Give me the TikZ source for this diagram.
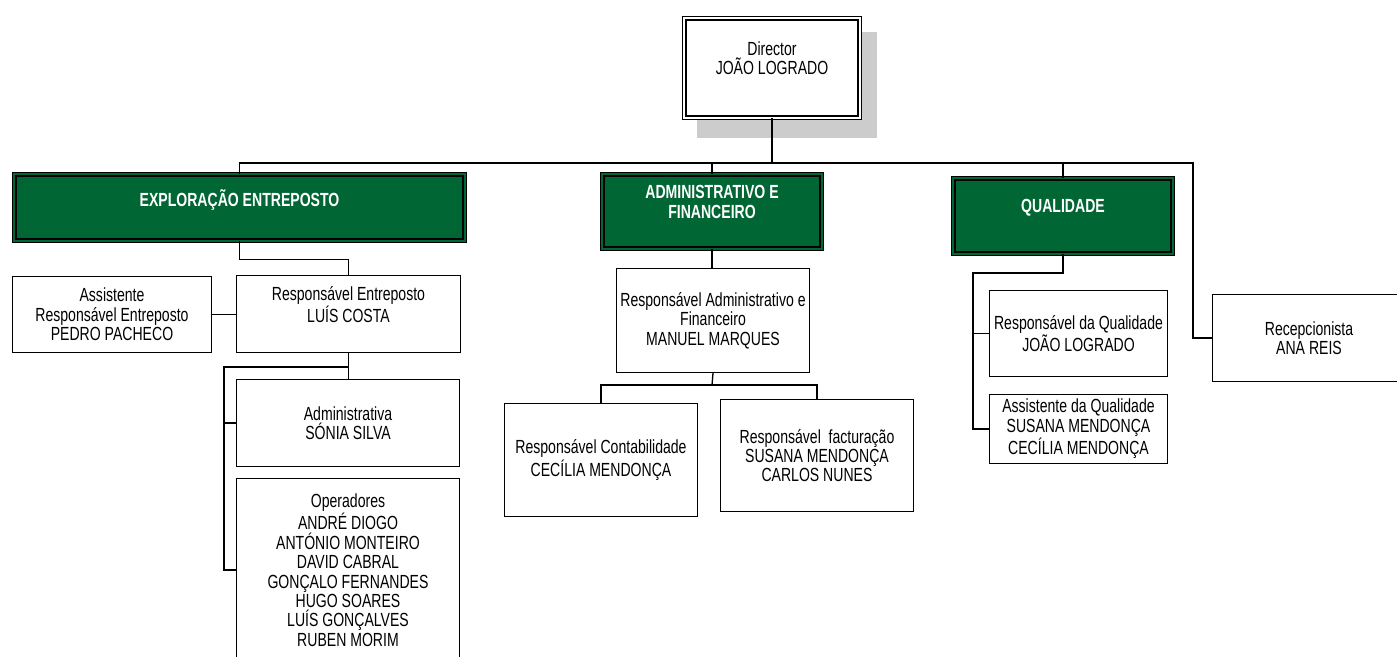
\documentclass[tikz,border=0pt]{standalone}
\usepackage{fontspec}
\setmainfont[FakeStretch=0.74]{Liberation Sans}
\usetikzlibrary{calc}
\definecolor{deptgreen}{RGB}{0,102,51}
\definecolor{shadowgray}{RGB}{204,204,204}

\begin{document}
\begin{tikzpicture}[
  x=0.5pt,y=-0.5pt,line width=0.65pt,
  every node/.style={rectangle,draw,align=center,inner sep=1pt,font=\fontsize{9.5}{9.7}\selectfont},
  unit/.style={fill=white},
  dept/.style={fill=deptgreen,double=deptgreen,double distance=1.1pt,text=white,font=\fontsize{9.5}{9.7}\selectfont\bfseries},
  boss/.style={fill=white,double=white,double distance=1.1pt}]
  \useasboundingbox(0,0) rectangle (1397,657);
  \clip(0,0) rectangle (1397,657);
  \fill[shadowgray](697,32) rectangle (877,138);
  \node[boss,minimum width=87.8pt,minimum height=49.8pt](dir) at(772,68){Director\\JOÃO LOGRADO\\~};
  \node[dept,minimum width=225.2pt,minimum height=33.2pt](expl) at(239.5,207.5){EXPLORAÇÃO ENTREPOSTO\\~};
  \node[dept,minimum width=109.7pt,minimum height=37.2pt](adm) at(712,211.5){ADMINISTRATIVO E\\FINANCEIRO\\~};
  \node[dept,minimum width=109.7pt,minimum height=37.7pt](qual) at(1063,216){QUALIDADE\\~};
  \node[unit,minimum width=99.5pt,minimum height=38pt](pedro) at(112,314.5){Assistente\\Responsável Entreposto\\PEDRO PACHECO};
  \node[unit,minimum width=112pt,minimum height=38.5pt](luis) at(348.5,314){Responsável Entreposto\\LUÍS COSTA\\~};
  \node[unit,minimum width=111.5pt,minimum height=43.5pt](sonia) at(348,423){Administrativa\\SÓNIA SILVA};
  \node[unit,minimum width=111.5pt,minimum height=91.5pt](oper) at(348,570){Operadores\\ANDRÉ DIOGO\\ANTÓNIO MONTEIRO\\DAVID CABRAL\\GONÇALO FERNANDES\\HUGO SOARES\\LUÍS GONÇALVES\\RUBEN MORIM};
  \node[unit,minimum width=96.5pt,minimum height=52pt](manuel) at(713,320.5){Responsável Administrativo e\\Financeiro\\MANUEL MARQUES};
  \node[unit,minimum width=96.5pt,minimum height=56.5pt](cecilia) at(601,460){Responsável Contabilidade\\CECÍLIA MENDONÇA};
  \node[unit,minimum width=96.5pt,minimum height=56pt](factur) at(817,455.5){Responsável\ \ facturação\\SUSANA MENDONÇA\\CARLOS NUNES};
  \node[unit,minimum width=89pt,minimum height=43pt](rq) at(1078.5,333.5){Responsável da Qualidade\\JOÃO LOGRADO};
  \node[unit,minimum width=89pt,minimum height=34.5pt](aq) at(1078.5,429){Assistente da Qualidade\\SUSANA MENDONÇA\\CECÍLIA MENDONÇA};
  \node[unit,minimum width=96.5pt,minimum height=43.5pt](rec) at(1309,338){Recepcionista\\ANA REIS};
  \coordinate(bus) at(772,163);
  \coordinate(recbend) at(1193,163);
  \coordinate(lbend) at(224,367);
  \coordinate(mbus) at(712,385);
  \coordinate(qbend) at(973,273);
  \draw(dir.south)--(bus);
  \draw(expl.north)|-(recbend)|-(rec.west);
  \draw(adm.north)--(adm.north|-bus);\draw(qual.north)--(qual.north|-bus);
  \draw(expl.south)--++(0,18)-|(luis.north);
  \draw(pedro.east)--(pedro.east-|luis.west);
  \draw(luis.south)--(luis.south|-sonia.north);
  \draw(luis.south)|-(lbend)|-(oper.west);\draw(lbend)|-(sonia.west);
  \draw(adm.south)--(adm.south|-manuel.north);
  \draw(manuel.south)--(mbus);
  \draw(cecilia.north)|-(mbus)-|(factur.north);
  \draw(qual.south)|-(qbend)|-(aq.west);\draw(qbend)|-(rq.west);
\end{tikzpicture}
\end{document}
